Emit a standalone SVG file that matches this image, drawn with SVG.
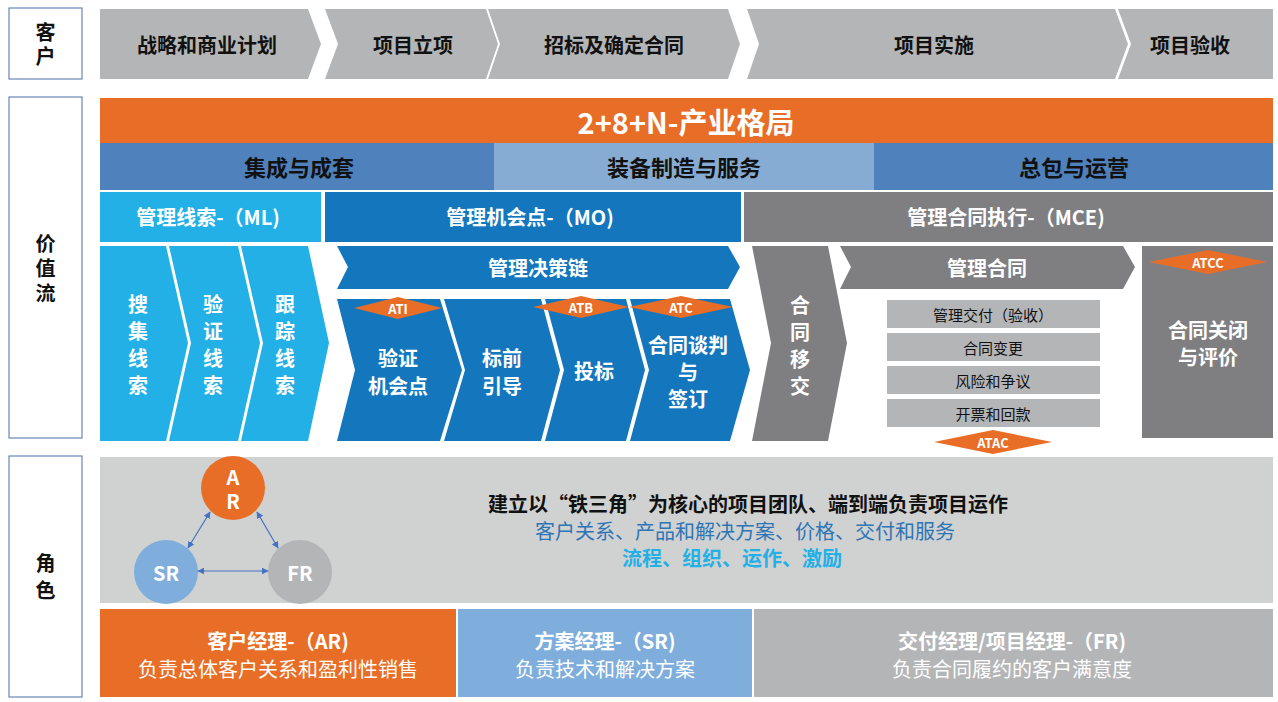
<svg xmlns="http://www.w3.org/2000/svg" width="1278" height="702" viewBox="0 0 1278 702">
<defs>
<style>
text{font-family:"Noto Sans CJK SC","Noto Sans",sans-serif;text-anchor:middle;dominant-baseline:central}
.b{font-weight:bold}
.w{fill:#ffffff}
.k{fill:#111111}
.f20{font-size:20px}
.f15{font-size:15px}
.f13{font-size:13px}
.v{writing-mode:vertical-rl;text-orientation:upright}
.lbl{fill:#ffffff;stroke:#4A6FA5;stroke-width:1}
.gl{fill:#B4B5B7}
.gd{fill:#7F7F82}
.or{fill:#E86D26}
.mb{fill:#4F81BD}
.lb{fill:#87ACD4}
.cy{fill:#22B0E6}
.bl{fill:#1477BE}
.sb{fill:#7FAEDC}
.rg{fill:#D0D1D1}
.con{stroke:#4472C4;stroke-width:1.2;fill:none;marker-start:url(#ah);marker-end:url(#ah)}
</style>
<marker id="ah" viewBox="0 0 10 10" refX="9" refY="5" markerWidth="7" markerHeight="7" orient="auto-start-reverse" markerUnits="userSpaceOnUse">
<path d="M0,0 L10,5 L0,10 Z" fill="#4472C4"/>
</marker>
</defs>
<rect width="1278" height="702" fill="#ffffff"/>

<!-- Left labels -->
<g id="label-customer">
<rect class="lbl" x="9" y="8" width="73" height="71"/>
<text class="b k f20 v" x="45.5" y="46" style="letter-spacing:4px">客户</text>
</g>
<g id="label-valuestream">
<rect class="lbl" x="9" y="97" width="73" height="341"/>
<text class="b k f20 v" x="45.5" y="270.5" style="letter-spacing:5px">价值流</text>
</g>
<g id="label-role">
<rect class="lbl" x="9" y="456" width="73" height="241"/>
<text class="b k f20 v" x="45.5" y="580" style="letter-spacing:7px">角色</text>
</g>

<!-- Customer stage chevrons -->
<g id="stage-strategy">
<path class="gl" d="M100,9 L308,9 L321,44 L308,79 L100,79 Z"/>
<text class="b k f20" x="207" y="44">战略和商业计划</text>
</g>
<g id="stage-approval">
<path class="gl" d="M325,9 L486,9 L498,44 L486,79 L325,79 L338,44 Z"/>
<text class="b k f20" x="413" y="44">项目立项</text>
</g>
<g id="stage-bidding">
<path class="gl" d="M488,9 L728,9 L740,44 L728,79 L488,79 L500,44 Z"/>
<text class="b k f20" x="614" y="44">招标及确定合同</text>
</g>
<g id="stage-implement">
<path class="gl" d="M747,9 L1115,9 L1128,44 L1115,79 L747,79 L759,44 Z"/>
<text class="b k f20" x="934" y="44">项目实施</text>
</g>
<g id="stage-acceptance">
<path class="gl" d="M1118,9 L1273,9 L1273,79 L1118,79 L1131,44 Z"/>
<text class="b k f20" x="1190" y="44">项目验收</text>
</g>

<!-- Value stream header bands -->
<g id="band-industry">
<rect class="or" x="100" y="98" width="1173" height="45"/>
<text class="b w" x="686" y="121" style="font-size:29px">2+8+N-产业格局</text>
</g>
<g id="band-integration">
<rect class="mb" x="100" y="143" width="394" height="47"/>
<text class="b k" x="299" y="166" style="font-size:22px">集成与成套</text>
</g>
<g id="band-manufacturing">
<rect class="lb" x="494" y="143" width="380" height="47"/>
<text class="b k" x="684" y="166" style="font-size:22px">装备制造与服务</text>
</g>
<g id="band-epc">
<rect class="mb" x="874" y="143" width="399" height="47"/>
<text class="b k" x="1074" y="166" style="font-size:22px">总包与运营</text>
</g>

<g id="band-ml">
<rect class="cy" x="100" y="192" width="221" height="50"/>
<text class="b w f20" x="208" y="216">管理线索-（ML)</text>
</g>
<g id="band-mo">
<rect class="bl" x="325" y="192" width="416" height="50"/>
<text class="b w f20" x="530" y="216">管理机会点-（MO)</text>
</g>
<g id="band-mce">
<rect class="gd" x="744" y="192" width="529" height="50"/>
<text class="b w f20" x="1006" y="216">管理合同执行-（MCE)</text>
</g>

<!-- ML chevrons -->
<g id="ml-collect">
<path class="cy" d="M100,246 L166,246 L188,343 L166,441 L100,441 Z"/>
<text class="b w f20" x="138" y="303"><tspan x="138" y="303">搜</tspan><tspan x="138" y="330">集</tspan><tspan x="138" y="357">线</tspan><tspan x="138" y="384">索</tspan></text>
</g>
<g id="ml-verify">
<path class="cy" d="M169,246 L238,246 L260,343 L238,441 L169,441 L191,343 Z"/>
<text class="b w f20" x="213" y="303"><tspan x="213" y="303">验</tspan><tspan x="213" y="330">证</tspan><tspan x="213" y="357">线</tspan><tspan x="213" y="384">索</tspan></text>
</g>
<g id="ml-track">
<path class="cy" d="M241,246 L308,246 L329,343 L308,441 L241,441 L263,343 Z"/>
<text class="b w f20" x="285" y="303"><tspan x="285" y="303">跟</tspan><tspan x="285" y="330">踪</tspan><tspan x="285" y="357">线</tspan><tspan x="285" y="384">索</tspan></text>
</g>

<!-- MO -->
<g id="mo-decision-chain">
<path class="bl" d="M337,246 L728,246 L740,267 L728,289 L337,289 L348,267 Z"/>
<text class="b w f20" x="538" y="267">管理决策链</text>
</g>
<g id="mo-verify">
<path class="bl" d="M337,299 L440,299 L462,370 L440,441 L337,441 L355,370 Z"/>
<text class="b w f20" x="398" y="357"><tspan x="398" y="357">验证</tspan><tspan x="398" y="385">机会点</tspan></text>
</g>
<g id="mo-guide">
<path class="bl" d="M444,299 L541,299 L560,370 L541,441 L444,441 L465,370 Z"/>
<text class="b w f20" x="502" y="357"><tspan x="502" y="357">标前</tspan><tspan x="502" y="385">引导</tspan></text>
</g>
<g id="mo-bid">
<path class="bl" d="M545,299 L626,299 L645,370 L626,441 L545,441 L564,370 Z"/>
<text class="b w f20" x="594" y="370">投标</text>
</g>
<g id="mo-contract">
<path class="bl" d="M630,299 L730,299 L750,370 L730,441 L630,441 L649,370 Z"/>
<text class="b w f20" x="688" y="344"><tspan x="688" y="344">合同谈判</tspan><tspan x="688" y="371">与</tspan><tspan x="688" y="398">签订</tspan></text>
</g>
<g id="diamond-ati">
<polygon class="or" points="354,308 398,297 442,308 398,319"/>
<text class="b w f13" x="398" y="308">ATI</text>
</g>
<g id="diamond-atb">
<polygon class="or" points="533,307 581,296 629,307 581,318"/>
<text class="b w f13" x="581" y="307">ATB</text>
</g>
<g id="diamond-atc">
<polygon class="or" points="629,307 681,296 733,307 681,318"/>
<text class="b w f13" x="681" y="307">ATC</text>
</g>

<!-- MCE -->
<g id="mce-handover">
<path class="gd" d="M752,246 L828,246 L847,343 L828,441 L752,441 L771,343 Z"/>
<text class="b w f20" x="800" y="304"><tspan x="800" y="304">合</tspan><tspan x="800" y="331">同</tspan><tspan x="800" y="358">移</tspan><tspan x="800" y="385">交</tspan></text>
</g>
<g id="mce-manage">
<path class="gd" d="M840,246 L1123,246 L1135,267 L1123,289 L840,289 L851,267 Z"/>
<text class="b w f20" x="987" y="267">管理合同</text>
</g>
<g id="mce-delivery">
<rect class="gl" x="887" y="300" width="213" height="28"/>
<text class="k f15" x="993" y="314">管理交付（验收）</text>
</g>
<g id="mce-change">
<rect class="gl" x="887" y="333" width="213" height="28"/>
<text class="k f15" x="993" y="347">合同变更</text>
</g>
<g id="mce-risk">
<rect class="gl" x="887" y="366" width="213" height="28"/>
<text class="k f15" x="993" y="380">风险和争议</text>
</g>
<g id="mce-invoice">
<rect class="gl" x="887" y="399" width="213" height="28"/>
<text class="k f15" x="993" y="413">开票和回款</text>
</g>
<g id="diamond-atac">
<polygon class="or" points="934,442 993,430 1052,442 993,454"/>
<text class="b w f13" x="993" y="442">ATAC</text>
</g>
<g id="mce-close">
<rect class="gd" x="1142" y="246" width="131" height="192"/>
<polygon class="or" points="1149,262 1208,250 1267,262 1208,274"/>
<text class="b w f13" x="1208" y="262">ATCC</text>
<text class="b w f20" x="1208" y="329"><tspan x="1208" y="329">合同关闭</tspan><tspan x="1208" y="356">与评价</tspan></text>
</g>

<!-- Roles -->
<g id="roles-panel">
<rect class="rg" x="100" y="457" width="1173" height="146"/>
<text class="b k f20" x="748" y="503">建立以“铁三角”为核心的项目团队、端到端负责项目运作</text>
<text class="f20" x="745" y="530" fill="#2E75B6">客户关系、产品和解决方案、价格、交付和服务</text>
<text class="b f20" x="732" y="557" fill="#22B0E6">流程、组织、运作、激励</text>
</g>
<g id="circle-ar">
<circle class="or" cx="233" cy="488" r="32"/>
<text class="b w f20 v" x="233" y="491" style="letter-spacing:4px">AR</text>
</g>
<g id="circle-sr">
<circle class="sb" cx="166" cy="572" r="32"/>
<text class="b w f20" x="166" y="572">SR</text>
</g>
<g id="circle-fr">
<circle class="gl" cx="300" cy="572" r="32"/>
<text class="b w f20" x="300" y="572">FR</text>
</g>
<g id="connectors">
<line class="con" x1="210" y1="512" x2="188" y2="548"/>
<line class="con" x1="257" y1="512" x2="278" y2="548"/>
<line class="con" x1="198" y1="571" x2="268" y2="571"/>
</g>

<g id="role-ar">
<rect class="or" x="100" y="609" width="356" height="88"/>
<text class="b w f20" x="278" y="640">客户经理-（AR)</text>
<text class="w f20" x="278" y="668">负责总体客户关系和盈利性销售</text>
</g>
<g id="role-sr">
<rect class="sb" x="458" y="609" width="294" height="88"/>
<text class="b w f20" x="605" y="640">方案经理-（SR)</text>
<text class="w f20" x="605" y="668">负责技术和解决方案</text>
</g>
<g id="role-fr">
<rect class="gl" x="754" y="609" width="519" height="88"/>
<text class="b w f20" x="1012" y="640">交付经理/项目经理-（FR)</text>
<text class="w f20" x="1012" y="668">负责合同履约的客户满意度</text>
</g>
</svg>
